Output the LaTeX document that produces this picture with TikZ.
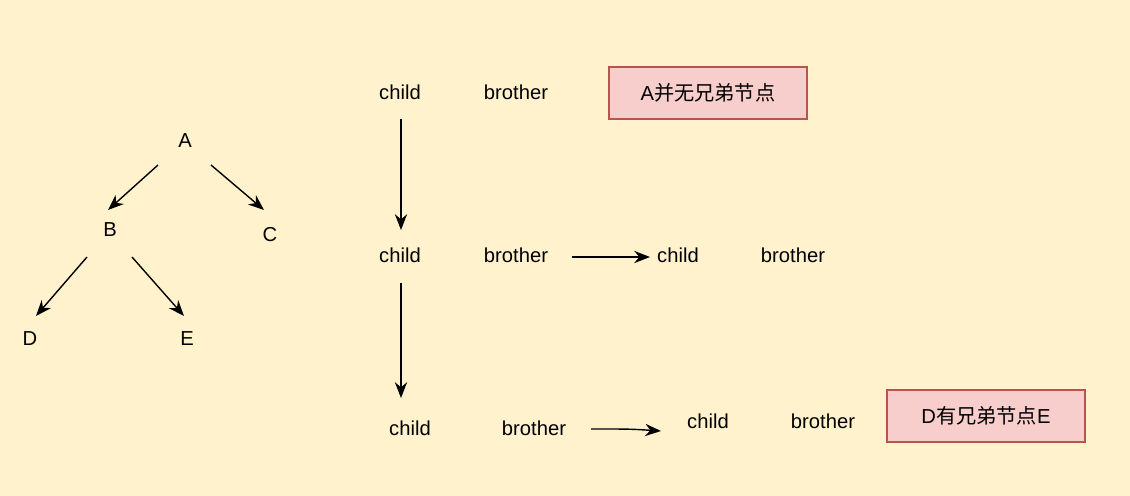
\documentclass[tikz,border=0pt]{standalone}
\usepackage{fontspec}
\setmainfont{Liberation Sans}
\newfontfamily\cjk{Noto Sans CJK SC}
\usetikzlibrary{arrows.meta}
\definecolor{bgyellow}{HTML}{FFF2CC}
\definecolor{notefill}{HTML}{F8CECC}
\definecolor{notedraw}{HTML}{B85450}
\tikzset{
    lbl/.style={font=\fontsize{11.5pt}{13pt}\selectfont, inner sep=0pt},
    note/.style={lbl, draw=notedraw, fill=notefill, line width=0.8pt,
        minimum width=3.96cm, minimum height=1.04cm},
    link/.style={-{Stealth[length=9pt,width=7pt]}, line width=0.8pt}
}
\begin{document}
\begin{tikzpicture}[x=0.02cm,y=-0.02cm]
    \fill[bgyellow] (0,0) rectangle (1130,496);
    \useasboundingbox (0,0) rectangle (1130,496);

    % tree
    \node[lbl] (A) at (185,141) {A};
    \node[lbl] (B) at (110,230) {B};
    \node[lbl] (C) at (270,235) {C};
    \node[lbl] (D) at (30,339) {D};
    \node[lbl] (E) at (187,339) {E};
    \coordinate (ab1) at (158,165); \coordinate (ab2) at (108,210);
    \coordinate (ac1) at (211,165); \coordinate (ac2) at (264,210);
    \coordinate (bd1) at (87,257);  \coordinate (bd2) at (36,316);
    \coordinate (be1) at (132,257); \coordinate (be2) at (184,316);
    \draw[link] (ab1) -- (ab2);
    \draw[link] (ac1) -- (ac2);
    \draw[link] (bd1) -- (bd2);
    \draw[link] (be1) -- (be2);

    % first row
    \node[lbl] (child1) at (400,92) {child};
    \node[lbl] (brother1) at (516,92) {brother};
    \node[note] (noteA) at (708,93) {A{\cjk 并无兄弟节点}};

    % second row
    \node[lbl] (child2) at (400,255) {child};
    \node[lbl] (brother2) at (516,255) {brother};
    \node[lbl] (child3) at (678,255) {child};
    \node[lbl] (brother3) at (793,255) {brother};

    % third row
    \node[lbl] (child4) at (410,428) {child};
    \node[lbl] (brother4) at (534,428) {brother};
    \node[lbl] (child5) at (708,421) {child};
    \node[lbl] (brother5) at (823,421) {brother};
    \node[note] (noteD) at (986,416) {D{\cjk 有兄弟节点}E};

    \coordinate (s1) at (401,119); \coordinate (t1) at (401,230);
    \coordinate (s2) at (401,283); \coordinate (t2) at (401,398);
    \coordinate (s3) at (572,257); \coordinate (t3) at (650,257);
    \coordinate (s4) at (591,429); \coordinate (t4) at (661,431);
    \draw[link] (s1) -- (t1);
    \draw[link] (s2) -- (t2);
    \draw[link] (s3) -- (t3);
    \draw[link] (s4) .. controls (630,429) .. (t4);
\end{tikzpicture}
\end{document}
